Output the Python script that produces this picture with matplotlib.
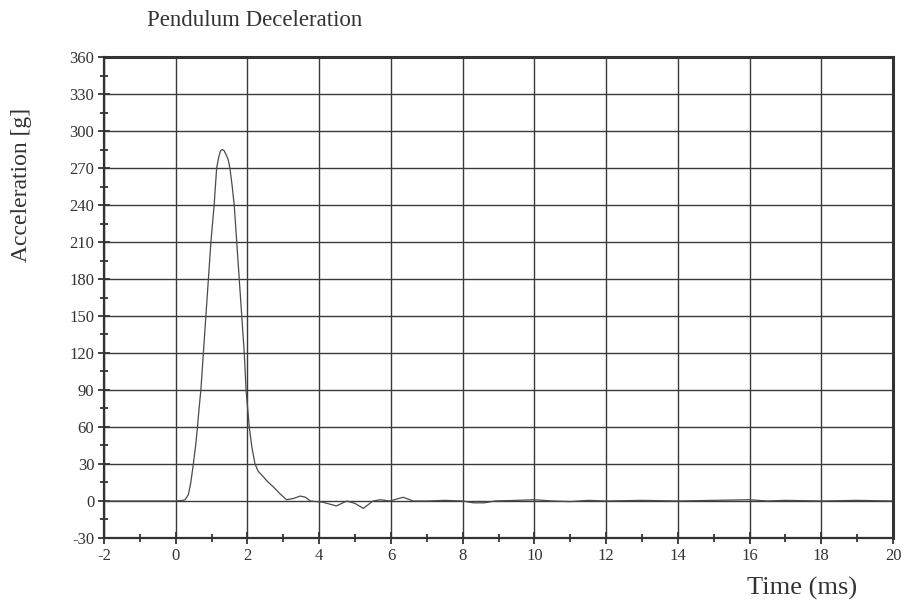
import matplotlib
matplotlib.use("Agg")
import matplotlib.pyplot as plt
from matplotlib.ticker import MultipleLocator

plt.rcParams["font.family"] = ["Liberation Serif", "DejaVu Serif"]

# 摆锤减速度曲线（从图上读取的点）
time_ms = [-2.0, -1.0, 0.0, 0.2, 0.26, 0.35, 0.42, 0.49, 0.55, 0.60, 0.65, 0.70,
           0.77, 0.84, 0.91, 0.98, 1.07, 1.14, 1.20, 1.25, 1.30, 1.35, 1.40, 1.46,
           1.51, 1.57, 1.63, 1.70, 1.77, 1.84, 1.91, 1.96, 2.05, 2.12, 2.21, 2.30,
           2.40, 2.55, 2.72, 2.90, 3.09, 3.28, 3.47, 3.62, 3.75, 4.1, 4.48, 4.77,
           5.0, 5.23, 5.5, 5.7, 5.97, 6.34, 6.62, 7.0, 7.5, 8.0, 8.3, 8.6, 8.9,
           9.5, 10.0, 10.5, 11.0, 11.5, 12.0, 13.0, 14.0, 15.0, 16.0, 16.5, 17.0,
           18.0, 19.0, 20.0]
accel_g = [0, 0, 0, 0.5, 1, 5, 15, 30, 44, 58, 75, 90,
           120, 150, 180, 210, 240, 270, 279, 284, 285, 284, 281, 277,
           270, 256, 240, 210, 180, 150, 120, 90, 60, 44, 30, 24,
           21, 16, 11.5, 6, 1, 2, 4, 3, 0, -1, -4, 0,
           -2, -6, 0, 1, 0, 3, 0, 0, 0.5, 0, -1.5, -1.5, 0,
           0.5, 1, 0, -0.5, 0.5, 0, 0.5, 0, 0.5, 1, 0, 0.5,
           0, 0.5, 0]

x_ticks = list(range(-2, 21, 2))
y_ticks = list(range(-30, 361, 30))

fig = plt.figure(figsize=(9.07, 6.04), dpi=100)
ax = fig.add_axes([0.1147, 0.1093, 0.8699, 0.7963])

ax.plot(time_ms, accel_g, color="#4a4a4a", linewidth=0.9)

ax.set_xlim(-2, 20)
ax.set_ylim(-30, 360)
ax.set_xticks(x_ticks)
ax.set_yticks(y_ticks)
ax.set_xticklabels([str(v) for v in x_ticks])
ax.set_yticklabels([str(v) for v in y_ticks])
ax.xaxis.set_minor_locator(MultipleLocator(1))
ax.yaxis.set_minor_locator(MultipleLocator(15))

ax.grid(True, which="major", color="#3a3a3a", linewidth=1.0)
ax.tick_params(which="major", direction="inout", length=8, width=1.3,
               color="#333333", labelsize=12, labelcolor="#333333", pad=3)
ax.tick_params(which="minor", direction="inout", length=6, width=1.3, color="#333333")

for side in ["left", "bottom"]:
    ax.spines[side].set_linewidth(1.6)
    ax.spines[side].set_color("#333333")
for side in ["top", "right"]:
    ax.spines[side].set_linewidth(2.2)
    ax.spines[side].set_color("#333333")

fig.text(147 / 907, 1 - 20 / 604, "Pendulum Deceleration", fontsize=16.5,
         color="#333333", ha="left", va="center")
fig.text(22 / 907, 1 - 185 / 604, "Acceleration [g]", fontsize=17,
         color="#333333", rotation=90, ha="center", va="center")
fig.text(857 / 907, 1 - 588 / 604, "Time (ms)", fontsize=19,
         color="#333333", ha="right", va="center")

fig.savefig("out.png", dpi=100)
